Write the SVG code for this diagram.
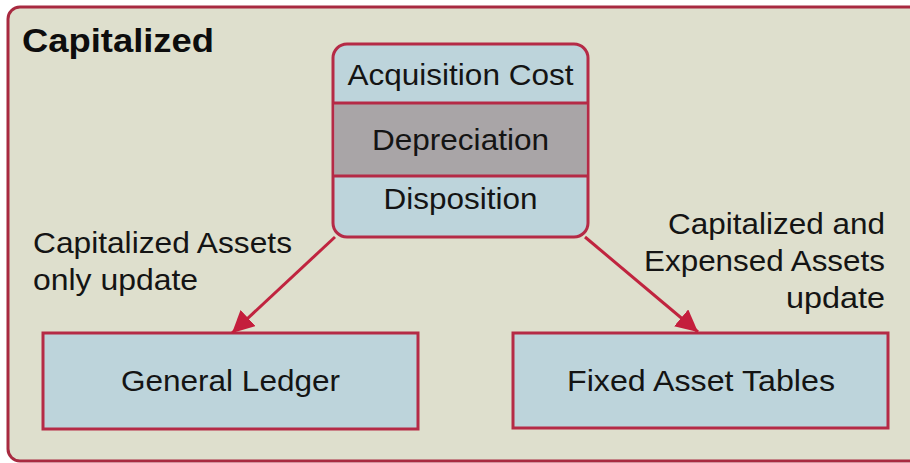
<svg xmlns="http://www.w3.org/2000/svg" width="910" height="463" viewBox="0 0 910 463">
  <style>
    .frame { fill: #dedfcd; stroke: #a82a40; stroke-width: 3; }
    .box { fill: #bdd4db; stroke: #b52a46; stroke-width: 3; }
    .grey { fill: #a9a5a7; }
    .rule { stroke: #b52a46; stroke-width: 3; }
    .lbl { font-family: "Liberation Sans", Arial, sans-serif; font-size: 29px; fill: #141414; }
    .title { font-family: "Liberation Sans", Arial, sans-serif; font-size: 33px; font-weight: bold; fill: #0d0d0d; }
    .link { stroke: #c0243f; stroke-width: 3; fill: none; }
  </style>
  <defs>
    <marker id="head" markerUnits="userSpaceOnUse" markerWidth="24" markerHeight="22" refX="22" refY="11" orient="auto">
      <path d="M0,0 L22,11 L0,22 Z" fill="#c41e3c"/>
    </marker>
  </defs>

  <rect width="910" height="463" fill="#ffffff"/>

  <g id="capitalized-frame">
    <rect class="frame" x="8" y="7" width="920" height="454" rx="12"/>
    <text class="title" x="22" y="52" textLength="192" lengthAdjust="spacingAndGlyphs">Capitalized</text>
  </g>

  <g id="asset-lifecycle">
    <rect class="box" x="333" y="44" width="255" height="193" rx="14"/>
    <rect class="grey" x="334.5" y="103" width="252" height="73"/>
    <line class="rule" x1="333" y1="103" x2="588" y2="103"/>
    <line class="rule" x1="333" y1="176" x2="588" y2="176"/>
    <text class="lbl" x="460.5" y="85" text-anchor="middle" textLength="226" lengthAdjust="spacingAndGlyphs">Acquisition Cost</text>
    <text class="lbl" x="460.5" y="149.5" text-anchor="middle" textLength="177" lengthAdjust="spacingAndGlyphs">Depreciation</text>
    <text class="lbl" x="460.5" y="209" text-anchor="middle" textLength="154" lengthAdjust="spacingAndGlyphs">Disposition</text>
  </g>

  <g id="general-ledger">
    <rect class="box" x="43" y="333" width="375" height="96"/>
    <text class="lbl" x="230.5" y="391" text-anchor="middle" textLength="219" lengthAdjust="spacingAndGlyphs">General Ledger</text>
  </g>

  <g id="fixed-asset-tables">
    <rect class="box" x="513" y="333" width="375" height="95"/>
    <text class="lbl" x="701" y="391" text-anchor="middle" textLength="268" lengthAdjust="spacingAndGlyphs">Fixed Asset Tables</text>
  </g>

  <g id="connectors">
    <line class="link" x1="335" y1="237" x2="232" y2="333" marker-end="url(#head)"/>
    <line class="link" x1="585" y1="237" x2="698" y2="332" marker-end="url(#head)"/>
  </g>

  <g id="connector-labels">
    <text class="lbl" x="33" y="253" textLength="259" lengthAdjust="spacingAndGlyphs">Capitalized Assets</text>
    <text class="lbl" x="33" y="290" textLength="165" lengthAdjust="spacingAndGlyphs">only update</text>
    <text class="lbl" x="885" y="234" text-anchor="end" textLength="217" lengthAdjust="spacingAndGlyphs">Capitalized and</text>
    <text class="lbl" x="885" y="271" text-anchor="end" textLength="241" lengthAdjust="spacingAndGlyphs">Expensed Assets</text>
    <text class="lbl" x="885" y="308" text-anchor="end" textLength="99" lengthAdjust="spacingAndGlyphs">update</text>
  </g>
</svg>
